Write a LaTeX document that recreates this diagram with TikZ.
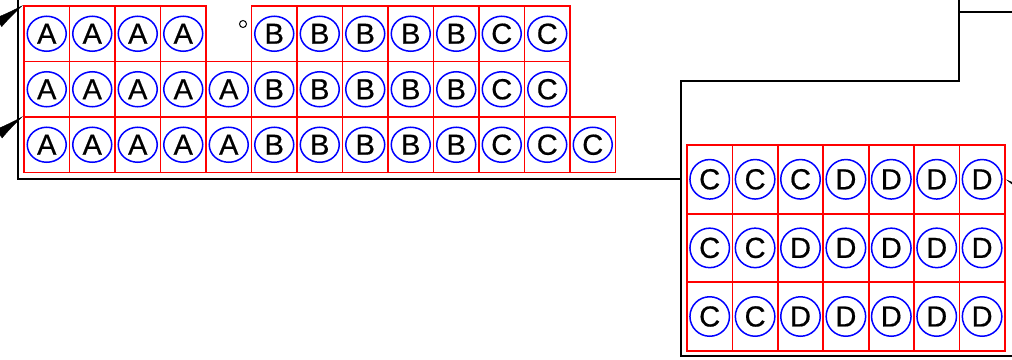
\documentclass[tikz,border=0pt]{standalone}
\usepackage{fontspec}
\setmainfont{Liberation Sans}
\newfontfamily\tagfont[FakeBold=0.6]{Liberation Sans}
\usetikzlibrary{arrows.meta,shapes.geometric}

\begin{document}
\begin{tikzpicture}[x=1pt,y=-1pt,
    cell/.style={rectangle, draw=red, line width=1.8pt, minimum width=45.5pt, minimum height=55.5pt, inner sep=0pt},
    tall cell/.style={cell, minimum width=45.4pt, minimum height=68.6pt},
    tag/.style={ellipse, draw=blue, line width=1.5pt, minimum width=39pt, minimum height=35pt, inner sep=0pt, font=\tagfont\fontsize{29}{29}\selectfont},
    round tag/.style={tag, circle, minimum size=39.5pt},
    wall/.style={black, line width=1.8pt},
    feed/.style={-{Latex[length=30pt,width=11pt]}, line width=0.4pt}]

    \useasboundingbox (0,0) rectangle (1012,359);

    % outline of the hall
    \draw[wall] (18,-2) -- (18,179) -- (681,179);
    \draw[wall] (959,-2) -- (959,81) -- (681,81) -- (681,356) -- (1015,356);
    \draw[wall] (959,12) -- (1015,12);

    % left block
    \foreach \r/\row in {1/{A,A,A,A,,B,B,B,B,B,C,C},
                         2/{A,A,A,A,A,B,B,B,B,B,C,C},
                         3/{A,A,A,A,A,B,B,B,B,B,C,C,C}}
        \foreach \t [count=\c] in \row {
            \ifx\t\empty\else
                \node[cell] (l-\r-\c) at ({24+45.5*(\c-0.5)},{6+55.5*(\r-0.5)}) {};
                \node[tag] at (l-\r-\c) {\t};
            \fi
        };

    \node[circle, draw, line width=1pt, minimum size=7pt, inner sep=0pt] (dot) at (243,24) {};

    % right block
    \foreach \r/\row in {1/{C,C,C,D,D,D,D},
                         2/{C,C,D,D,D,D,D},
                         3/{C,C,D,D,D,D,D}}
        \foreach \t [count=\c] in \row {
            \node[tall cell] (r-\r-\c) at ({687+45.4*(\c-0.5)},{145+68.6*(\r-0.5)}) {};
            \node[round tag] at (r-\r-\c) {\t};
        };

    % incoming arrows
    \coordinate (in-a) at (-15,32);
    \coordinate (in-b) at (-15,144);
    \coordinate (in-c) at (1040,200);

    \draw[feed] (in-a) -- (l-1-1.north west);
    \draw[feed] (in-b) -- (l-3-1.north west);
    \draw[feed] (in-c) -- (r-1-7.east);
\end{tikzpicture}
\end{document}
